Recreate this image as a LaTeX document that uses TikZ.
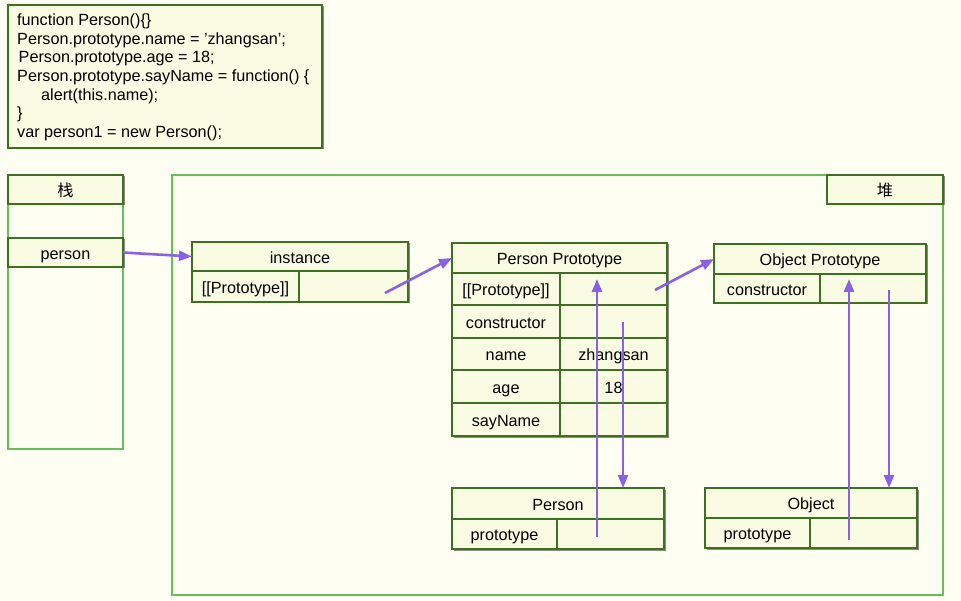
\documentclass[tikz,border=0pt]{standalone}
\usepackage{fontspec}
\setmainfont{Liberation Sans}
\newfontfamily\cjk{Noto Sans CJK SC}
\usetikzlibrary{arrows.meta,shadows}
\definecolor{bgc}{RGB}{254,254,242}
\definecolor{cellfill}{RGB}{249,251,226}
\definecolor{cellline}{RGB}{62,112,34}
\definecolor{panel}{RGB}{104,190,92}
\definecolor{ptrc}{RGB}{136,96,234}
\begin{document}
\begin{tikzpicture}[x=1pt,y=-1pt,
  cell/.style={draw=cellline, line width=2pt, fill=cellfill, inner sep=0pt, outer sep=0pt,
    anchor=north west, font=\fontsize{16.2}{19}\selectfont, text height=13.5pt, text depth=0pt,
    drop shadow={shadow xshift=1.5pt,shadow yshift=-1.5pt,opacity=0.45,fill=black}},
  panelbox/.style={draw=panel, line width=2pt, inner sep=0pt, outer sep=0pt, anchor=north west},
  ptr/.style={draw=ptrc, line width=2.6pt, -{Triangle[length=13pt,width=10pt]}}]
\useasboundingbox (0,0) rectangle (961,601);
\fill[bgc] (0,0) rectangle (961,601);

% code box
\node[cell, minimum width=314pt, minimum height=143pt, text height=0pt] (code) at (8,5) {};
\node[anchor=north west, inner sep=0pt, align=left, font=\fontsize{16.2}{18.7}\selectfont] (codetext) at (17,13.5)
{function Person()\{\}\\
Person.prototype.name = {\char39}zhangsan{\char39};\\
\hspace*{1.5pt}Person.prototype.age = 18;\\
Person.prototype.sayName = function() \{\\
\hspace*{24pt}alert(this.name);\\
\}\\
var person1 = new Person();};

% panels
\node[panelbox, minimum width=115pt, minimum height=274pt] (stack) at (8,175) {};
\node[panelbox, minimum width=771pt, minimum height=420pt] (heap) at (172,175) {};

\node[cell, minimum width=115pt, minimum height=29pt] (stackH) at (8,175) {\cjk 栈};
\node[cell, minimum width=115pt, minimum height=29pt] (person) at (8,238) {person};
\node[cell, minimum width=116pt, minimum height=29pt] (heapH) at (827,175) {\cjk 堆};

% instance
\node[cell, minimum width=216pt, minimum height=29pt] (instH) at (192,242) {instance};
\node[cell, minimum width=107pt, minimum height=31pt] (instL) at (192,271) {[[Prototype]]};
\node[cell, minimum width=109pt, minimum height=31pt] (instR) at (299,271) {};

% Person Prototype
\node[cell, minimum width=215pt, minimum height=30pt] (ppH) at (452,243) {Person Prototype};
\node[cell, minimum width=108pt, minimum height=32pt] (pp1L) at (452,273) {[[Prototype]]};
\node[cell, minimum width=107pt, minimum height=32pt] (pp1R) at (560,273) {};
\node[cell, minimum width=108pt, minimum height=33pt] (pp2L) at (452,305) {constructor};
\node[cell, minimum width=107pt, minimum height=33pt] (pp2R) at (560,305) {};
\node[cell, minimum width=108pt, minimum height=32pt] (pp3L) at (452,338) {name};
\node[cell, minimum width=107pt, minimum height=32pt] (pp3R) at (560,338) {zhangsan};
\node[cell, minimum width=108pt, minimum height=33pt] (pp4L) at (452,370) {age};
\node[cell, minimum width=107pt, minimum height=33pt] (pp4R) at (560,370) {18};
\node[cell, minimum width=108pt, minimum height=33pt] (pp5L) at (452,403) {sayName};
\node[cell, minimum width=107pt, minimum height=33pt] (pp5R) at (560,403) {};

% Object Prototype
\node[cell, minimum width=212pt, minimum height=30pt] (opH) at (714,244) {Object Prototype};
\node[cell, minimum width=106pt, minimum height=29pt] (opL) at (714,274) {constructor};
\node[cell, minimum width=106pt, minimum height=29pt] (opR) at (820,274) {};

% Person
\node[cell, minimum width=212pt, minimum height=31pt] (pH) at (452,488) {Person};
\node[cell, minimum width=105pt, minimum height=30pt] (pL) at (452,519) {prototype};
\node[cell, minimum width=107pt, minimum height=30pt] (pR) at (557,519) {};

% Object
\node[cell, minimum width=212pt, minimum height=30pt] (oH) at (705,488) {Object};
\node[cell, minimum width=105pt, minimum height=30pt] (oL) at (705,518) {prototype};
\node[cell, minimum width=107pt, minimum height=30pt] (oR) at (810,518) {};

% pointers
\coordinate (a2) at (385,293);
\coordinate (a3) at (655,290);
\coordinate (a4) at (597,537);
\coordinate (a5) at (623,322);
\coordinate (a6) at (849,540);
\coordinate (a7) at (889,290);
\draw[ptr] (person.east) -- (instH.west);
\draw[ptr] (a2) -- (ppH.west);
\draw[ptr] (a3) -- (opH.west);
\draw[ptr, shorten >=6pt] (a4) -- (a4 |- ppH.south);
\draw[ptr, shorten >=5pt] (a6) -- (a6 |- opH.south);
\draw[ptr] (a5) -- (a5 |- pH.north);
\draw[ptr] (a7) -- (a7 |- oH.north);
\end{tikzpicture}
\end{document}
